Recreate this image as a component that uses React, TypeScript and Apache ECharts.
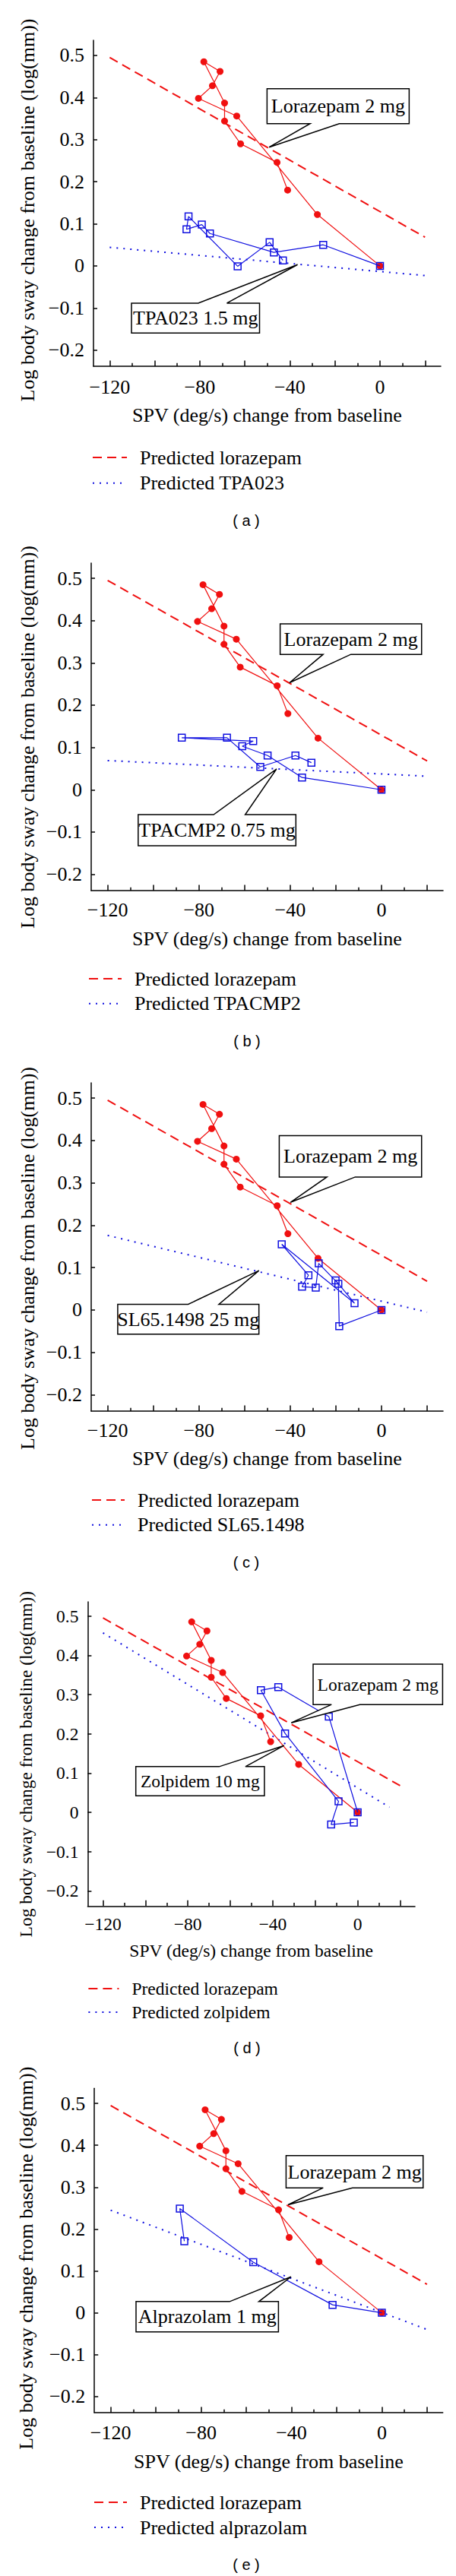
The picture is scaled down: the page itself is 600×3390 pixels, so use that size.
import React, { useEffect, useRef } from "react";
import * as echarts from "echarts";

// ---------- axes ----------
const spvMin = -127.2;
const spvMax = 27;
const swayMin = -0.2385;
const swayMax = 0.536;
const spvMajorTicks = [-120, -100, -80, -60, -40, -20, 0, 20];
const spvMinorTicks = [-110, -90, -70, -50, -30, -10, 10];
const spvTickLabels = [-120, -80, -40, 0];
const swayTicks = [-0.2, -0.1, 0, 0.1, 0.2, 0.3, 0.4, 0.5];

// ---------- lorazepam 2 mg (same in every panel) ----------
const lorazepamSpv = [0, -27.8, -63.6, -80.6, -74.4, -71.0, -78.2, -69.0, -69.0, -61.9, -45.7, -41.0];
const lorazepamSway = [0, 0.122, 0.356, 0.398, 0.428, 0.462, 0.485, 0.387, 0.344, 0.29, 0.246, 0.18];
const predLorazepamSpv = [-120, 20];
const predLorazepamSway = [0.495, 0.068];

// ---------- comparison drugs ----------
const tpa023Spv = [0, -25.2, -47.1, -75.5, -79.1, -85.9, -85.0, -63.2, -49.0, -43.1];
const tpa023Sway = [0, 0.05, 0.032, 0.077, 0.098, 0.087, 0.1175, -0.001, 0.056, 0.013];
const predTpa023Spv = [-120, 20];
const predTpa023Sway = [0.044, -0.023];

const tpacmp2Spv = [0, -34.8, -49.9, -61.0, -56.2, -87.5, -67.7, -53.1, -37.7, -30.7];
const tpacmp2Sway = [0, 0.029, 0.081, 0.103, 0.115, 0.123, 0.123, 0.054, 0.081, 0.064];
const predTpacmp2Spv = [-120, 20];
const predTpacmp2Sway = [0.069, 0.032];

const sl651498Spv = [0, -18.5, -18.9, -27.5, -28.8, -34.8, -32.0, -43.7, -11.8, -20.1];
const sl651498Sway = [0, -0.038, 0.062, 0.11, 0.053, 0.055, 0.082, 0.155, 0.016, 0.07];
const predSl651498Spv = [-120, 20];
const predSl651498Sway = [0.176, -0.005];

const zolpidemSpv = [0, -13.6, -37.4, -45.6, -34.2, -9.0, -12.5, -1.8];
const zolpidemSway = [0, 0.244, 0.319, 0.311, 0.201, 0.028, -0.031, -0.026];
const predZolpidemSpv = [-120, 15];
const predZolpidemSway = [0.457, 0.013];

const alprazolamSpv = [0, -21.8, -56.9, -89.4, -87.4];
const alprazolamSway = [0, 0.019, 0.121, 0.249, 0.171];
const predAlprazolamSpv = [-120, 20];
const predAlprazolamSway = [0.245, -0.04];

// ---------- texts ----------
const xTitle = "SPV (deg/s) change from baseline";
const yTitle = "Log body sway change from baseline (log(mm))";
const lorazepamLabel = "Lorazepam 2 mg";
const predLorazepamLabel = "Predicted lorazepam";
const panelCaptions = ["( a )", "( b )", "( c )", "( d )", "( e )"];
const drugLabels = ["TPA023 1.5 mg", "TPACMP2 0.75 mg", "SL65.1498 25 mg", "Zolpidem 10 mg", "Alprazolam 1 mg"];
const predDrugLabels = ["Predicted TPA023", "Predicted TPACMP2", "Predicted SL65.1498", "Predicted zolpidem", "Predicted alprazolam"];
const drugSpv = [tpa023Spv, tpacmp2Spv, sl651498Spv, zolpidemSpv, alprazolamSpv];
const drugSway = [tpa023Sway, tpacmp2Sway, sl651498Sway, zolpidemSway, alprazolamSway];
const predDrugSpv = [predTpa023Spv, predTpacmp2Spv, predSl651498Spv, predZolpidemSpv, predAlprazolamSpv];
const predDrugSway = [predTpa023Sway, predTpacmp2Sway, predSl651498Sway, predZolpidemSway, predAlprazolamSway];

// callout anchor points (data units): [lorazepam callout, drug callout]
const calloutAnchorSpv = [[-49.2, -36.6], [-40.3, -46.0], [-39.9, -53.7], [-31.3, -34.7], [-41.5, -40.2]];
const calloutAnchorSway = [[0.282, 0.003], [0.253, 0.049], [0.254, 0.093], [0.228, 0.17], [0.258, 0.086]];

// ---------- layout (pixels) ----------
type Box = { l: number; r: number; t: number; b: number; n1: number; n2: number };
const layouts = [
  {
    grid: { left: 123, top: 53, width: 457, height: 429 }, fs: 26, xLabelMargin: 14, xNameGap: 51.7, yNameGap: 73.5, yPad: 18,
    legend: { left: 116, top: 584, gap: 7.7, iconW: 45 }, caption: [324, 685],
    boxes: [
      { l: -2.8, r: 184.2, t: -77, b: -31, n1: 53.9, n2: 92.2 },
      { l: -218.5, r: -50, t: 50.7, b: 90, n1: -130.7, n2: -93 },
    ],
  },
  {
    grid: { left: 120, top: 741, width: 463, height: 431 }, fs: 26, xLabelMargin: 12.3, xNameGap: 50.3, yNameGap: 70.5, yPad: 27,
    legend: { left: 111, top: 1270, gap: 6.7, iconW: 43 }, caption: [325, 1370],
    boxes: [
      { l: -12.3, r: 173.8, t: -77.6, b: -37.3, n1: 44.2, n2: 80.7 },
      { l: -182, r: 25.5, t: 60, b: 101, n1: -82.7, n2: -41.2 },
    ],
  },
  {
    grid: { left: 120, top: 1425, width: 463, height: 432 }, fs: 26, xLabelMargin: 12, xNameGap: 49.3, yNameGap: 70.5, yPad: 30,
    legend: { left: 115, top: 1956, gap: 6.7, iconW: 43 }, caption: [324, 2056],
    boxes: [
      { l: -14.7, r: 172.6, t: -87.7, b: -33.4, n1: 48, n2: 85.3 },
      { l: -185.8, r: 0, t: 44.4, b: 83.7, n1: -93.1, n2: -52.7 },
    ],
  },
  {
    grid: { left: 115.4, top: 2108, width: 430.6, height: 400.3 }, fs: 23.5, xLabelMargin: 11.6, xNameGap: 46.6, yNameGap: 69.6, yPad: 27,
    legend: { left: 110.4, top: 2600, gap: 7.1, iconW: 40 }, caption: [325, 2695],
    boxes: [
      { l: 28.8, r: 199.2, t: -77.3, b: -24, n1: 53, n2: 90.3 },
      { l: -195, r: -25.8, t: 27.7, b: 66, n1: -85.3, n2: -50.8 },
    ],
  },
  {
    grid: { left: 124.2, top: 2748.3, width: 458.5, height: 426.7 }, fs: 26, xLabelMargin: 13.7, xNameGap: 51, yNameGap: 76.6, yPad: 20,
    legend: { left: 118, top: 3275, gap: 7, iconW: 43 }, caption: [324, 3375],
    boxes: [
      { l: -2.6, r: 177.7, t: -64.6, b: -22.3, n1: 46.2, n2: 84.7 },
      { l: -203.9, r: -16.5, t: 32.6, b: 72.6, n1: -80.7, n2: -42.3 },
    ],
  },
];

const SERIF = '"Liberation Serif", "Times New Roman", serif';
const RED = "#f01010";
const BLUE = "#1010e0";

const zip = (xs: number[], ys: number[]) => xs.map((x, i) => [x, ys[i]]);
const fmtX = (v: number) => (v < 0 ? "\u2212" + Math.abs(v) : String(v));
const fmtY = (v: number) => {
  if (Math.abs(v) < 1e-9) return "0";
  return v < 0 ? "\u2212" + Math.abs(v).toFixed(1) : v.toFixed(1);
};

function buildOption() {
  const grid: any[] = [];
  const xAxis: any[] = [];
  const yAxis: any[] = [];
  const series: any[] = [];
  const legend: any[] = [];
  const graphic: any[] = [];

  layouts.forEach((lay, i) => {
    const fs = lay.fs;
    grid.push({ ...lay.grid, containLabel: false });
    const textStyle = { fontFamily: SERIF, fontSize: fs, color: "#000" };
    xAxis.push({
      type: "value", gridIndex: i, min: spvMin, max: spvMax, position: "bottom",
      name: xTitle, nameLocation: "middle", nameGap: lay.xNameGap, nameTextStyle: textStyle,
      axisLine: { show: true, onZero: false, lineStyle: { color: "#000", width: 1.5 } },
      axisTick: { show: true, inside: true, length: 7.5, customValues: spvMajorTicks, lineStyle: { color: "#000", width: 1.5 } },
      axisLabel: { show: true, customValues: spvTickLabels, formatter: fmtX, margin: lay.xLabelMargin, ...textStyle },
      splitLine: { show: false },
    });
    xAxis.push({
      type: "value", gridIndex: i, min: spvMin, max: spvMax, position: "bottom",
      axisLine: { show: false, onZero: false },
      axisTick: { show: true, inside: true, length: 4.3, customValues: spvMinorTicks, lineStyle: { color: "#000", width: 1.5 } },
      axisLabel: { show: false },
      splitLine: { show: false },
    });
    yAxis.push({
      type: "value", gridIndex: i, min: swayMin, max: swayMax,
      name: yTitle, nameLocation: "middle", nameRotate: 90, nameGap: lay.yNameGap,
      nameTextStyle: { ...textStyle, padding: [0, lay.yPad, 0, 0] },
      axisLine: { show: true, onZero: false, lineStyle: { color: "#000", width: 1.5 } },
      axisTick: { show: true, inside: true, length: 5, customValues: swayTicks, lineStyle: { color: "#000", width: 1.5 } },
      axisLabel: { show: true, customValues: swayTicks, formatter: fmtY, margin: 12, ...textStyle },
      splitLine: { show: false },
    });
    const xi = i * 2;
    series.push({
      type: "line", name: predLorazepamLabel, xAxisIndex: xi, yAxisIndex: i,
      data: zip(predLorazepamSpv, predLorazepamSway), symbol: "none", silent: true, z: 2,
      lineStyle: { color: RED, width: 2, type: [12, 7] }, itemStyle: { color: RED },
    });
    series.push({
      type: "line", name: predDrugLabels[i], xAxisIndex: xi, yAxisIndex: i,
      data: zip(predDrugSpv[i], predDrugSway[i]), symbol: "none", silent: true, z: 2,
      lineStyle: { color: BLUE, width: 2, type: [2, 7] }, itemStyle: { color: BLUE },
    });
    series.push({
      type: "line", name: lorazepamLabel + " " + panelCaptions[i], xAxisIndex: xi, yAxisIndex: i,
      data: zip(lorazepamSpv, lorazepamSway), symbol: "circle", symbolSize: 9, showAllSymbol: true, z: 3,
      lineStyle: { color: RED, width: 1.2 }, itemStyle: { color: RED },
    });
    series.push({
      type: "line", name: drugLabels[i], xAxisIndex: xi, yAxisIndex: i,
      data: zip(drugSpv[i], drugSway[i]), symbol: "rect", symbolSize: 9, showAllSymbol: true, z: 4,
      lineStyle: { color: BLUE, width: 1.2 },
      itemStyle: { color: "rgba(0,0,0,0)", borderColor: BLUE, borderWidth: 1.5 },
    });
    const texts = [lorazepamLabel, drugLabels[i]];
    [0, 1].forEach((k) => {
      const box: Box = lay.boxes[k];
      const text = texts[k];
      series.push({
        type: "custom", name: "callout " + text, xAxisIndex: xi, yAxisIndex: i, z: 10, clip: false, silent: true,
        data: [[calloutAnchorSpv[i][k], calloutAnchorSway[i][k]]],
        renderItem: (params: any, api: any) => {
          const p = api.coord([api.value(0), api.value(1)]);
          const L = p[0] + box.l, R = p[0] + box.r, T = p[1] + box.t, B = p[1] + box.b;
          const n1 = p[0] + box.n1, n2 = p[0] + box.n2;
          const pts = box.t < 0
            ? [[L, T], [R, T], [R, B], [n2, B], [p[0], p[1]], [n1, B], [L, B]]
            : [[L, T], [n1, T], [p[0], p[1]], [n2, T], [R, T], [R, B], [L, B]];
          return {
            type: "group",
            children: [
              { type: "polygon", shape: { points: pts }, style: { fill: "#fff", stroke: "#000", lineWidth: 1.5 } },
              {
                type: "text", x: (L + R) / 2, y: (T + B) / 2,
                style: { text, fontFamily: SERIF, fontSize: fs, fill: "#000", align: "center", verticalAlign: "middle" },
              },
            ],
          };
        },
      });
    });
    legend.push({
      orient: "vertical", left: lay.legend.left, top: lay.legend.top, itemWidth: lay.legend.iconW, itemHeight: 12,
      itemGap: lay.legend.gap, selectedMode: false, padding: 5,
      itemStyle: { color: "rgba(0,0,0,0)", borderWidth: 0, opacity: 0 },
      textStyle: { fontFamily: SERIF, fontSize: fs, lineHeight: fs, color: "#000", padding: [0, 0, 0, 12] },
      data: [predLorazepamLabel, predDrugLabels[i]],
    });
    graphic.push({
      type: "text", x: lay.caption[0], y: lay.caption[1],
      style: {
        text: panelCaptions[i], font: '20px "Liberation Sans", Arial, sans-serif', fill: "#000",
        align: "center", verticalAlign: "middle", textAlign: "center", textVerticalAlign: "middle",
      },
    });
  });

  return { animation: false, backgroundColor: "#fff", grid, xAxis, yAxis, series, legend, graphic };
}

export default function App() {
  const ref = useRef<HTMLDivElement>(null);
  useEffect(() => {
    if (!ref.current) return;
    const chart = echarts.init(ref.current, null, { renderer: "svg" });
    chart.setOption(buildOption() as any);
    return () => chart.dispose();
  }, []);
  return (
    <div
      ref={ref}
      style={{ position: "absolute", left: 0, top: 0, width: 600, height: 3390, background: "#fff" }}
    />
  );
}
